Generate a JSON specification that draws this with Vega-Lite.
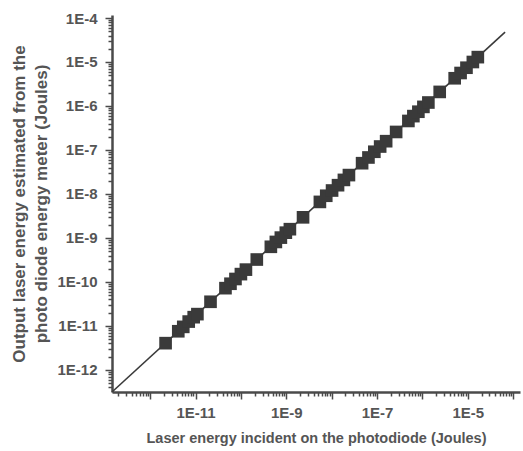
{
  "$schema": "https://vega.github.io/schema/vega-lite/v6.json",
  "width": 408,
  "height": 377,
  "autosize": {"type": "none"},
  "padding": {"left": 112, "top": 15, "right": 3, "bottom": 59},
  "background": "white",
  "config": {
    "view": {"stroke": null},
    "font": "Liberation Sans",
    "axis": {
      "domainColor": "#4a4a4a",
      "domainWidth": 2.5,
      "tickColor": "#4a4a4a",
      "tickWidth": 1.5,
      "grid": false,
      "labelFont": "Liberation Sans",
      "labelFontWeight": "bold",
      "labelFontSize": 15,
      "labelColor": "#555555",
      "titleFont": "Liberation Sans",
      "titleFontWeight": "bold",
      "titleFontSize": 14.5,
      "titleColor": "#555555",
      "labelOverlap": false,
      "labelFlush": false,
      "labelBound": false
    }
  },
  "datasets": {
    "pts": [
      {"x": 2.19e-12, "y": 4.07e-12},
      {"x": 4.17e-12, "y": 7.59e-12},
      {"x": 5.37e-12, "y": 9.55e-12},
      {"x": 7.08e-12, "y": 1.26e-11},
      {"x": 9.12e-12, "y": 1.585e-11},
      {"x": 1.10e-11, "y": 1.86e-11},
      {"x": 2.14e-11, "y": 3.55e-11},
      {"x": 4.57e-11, "y": 7.24e-11},
      {"x": 5.89e-11, "y": 9.12e-11},
      {"x": 7.59e-11, "y": 1.17e-10},
      {"x": 1.0e-10, "y": 1.51e-10},
      {"x": 1.29e-10, "y": 1.91e-10},
      {"x": 2.24e-10, "y": 3.24e-10},
      {"x": 4.57e-10, "y": 6.31e-10},
      {"x": 5.89e-10, "y": 8.13e-10},
      {"x": 7.59e-10, "y": 1.02e-9},
      {"x": 9.77e-10, "y": 1.32e-9},
      {"x": 1.20e-9, "y": 1.585e-9},
      {"x": 2.34e-9, "y": 2.95e-9},
      {"x": 5.50e-9, "y": 6.61e-9},
      {"x": 7.59e-9, "y": 9.12e-9},
      {"x": 1.02e-8, "y": 1.20e-8},
      {"x": 1.38e-8, "y": 1.585e-8},
      {"x": 1.86e-8, "y": 2.09e-8},
      {"x": 2.40e-8, "y": 2.69e-8},
      {"x": 4.68e-8, "y": 5.01e-8},
      {"x": 6.46e-8, "y": 6.76e-8},
      {"x": 8.71e-8, "y": 9.12e-8},
      {"x": 1.17e-7, "y": 1.20e-7},
      {"x": 1.585e-7, "y": 1.585e-7},
      {"x": 2.63e-7, "y": 2.57e-7},
      {"x": 4.90e-7, "y": 4.57e-7},
      {"x": 6.31e-7, "y": 5.89e-7},
      {"x": 8.13e-7, "y": 7.41e-7},
      {"x": 1.05e-6, "y": 9.55e-7},
      {"x": 1.35e-6, "y": 1.20e-6},
      {"x": 2.40e-6, "y": 2.09e-6},
      {"x": 5.13e-6, "y": 4.27e-6},
      {"x": 6.92e-6, "y": 5.62e-6},
      {"x": 9.33e-6, "y": 7.41e-6},
      {"x": 1.29e-5, "y": 1.0e-5},
      {"x": 1.66e-5, "y": 1.29e-5}
    ],
    "fit": [
      {"x": 1.445e-13, "y": 3.16e-13},
      {"x": 6.61e-5, "y": 4.79e-5}
    ]
  },
  "layer": [
    {
      "data": {"name": "fit"},
      "mark": {"type": "line", "color": "#3a3a3a", "strokeWidth": 1.6},
      "encoding": {
        "x": {
          "field": "x",
          "type": "quantitative",
          "scale": {"type": "log", "domain": [1.445e-13, 1.41e-4], "nice": false, "zero": false},
          "axis": {
            "title": "Laser energy incident on the photodiode (Joules)",
            "tickCount": 100,
            "tickSize": {"condition": {"test": "abs(log(datum.value)/LN10 - round(log(datum.value)/LN10)) < 0.001", "value": 7}, "value": 4},
            "labelExpr": "abs(log(datum.value)/LN10 - round(log(datum.value)/LN10)) < 0.001 && indexof([-11,-9,-7,-5], round(log(datum.value)/LN10)) >= 0 ? '1E' + round(log(datum.value)/LN10) : ''",
            "labelPadding": 6,
            "titlePadding": 11
          }
        },
        "y": {
          "field": "y",
          "type": "quantitative",
          "scale": {"type": "log", "domain": [3.16e-13, 1.17e-4], "nice": false, "zero": false},
          "axis": {
            "title": ["Output laser energy estimated from the", "photo diode energy meter (Joules)"],
            "titleFontSize": 17,
            "titleLineHeight": 22,
            "tickCount": 100,
            "tickSize": {"condition": {"test": "abs(log(datum.value)/LN10 - round(log(datum.value)/LN10)) < 0.001", "value": 7}, "value": 4},
            "labelExpr": "abs(log(datum.value)/LN10 - round(log(datum.value)/LN10)) < 0.001 ? '1E' + round(log(datum.value)/LN10) : ''",
            "labelPadding": 8,
            "titlePadding": 6
          }
        }
      }
    },
    {
      "data": {"name": "pts"},
      "mark": {"type": "square", "color": "#3a3a3a", "opacity": 1, "size": 160},
      "encoding": {
        "x": {"field": "x", "type": "quantitative"},
        "y": {"field": "y", "type": "quantitative"}
      }
    }
  ]
}
